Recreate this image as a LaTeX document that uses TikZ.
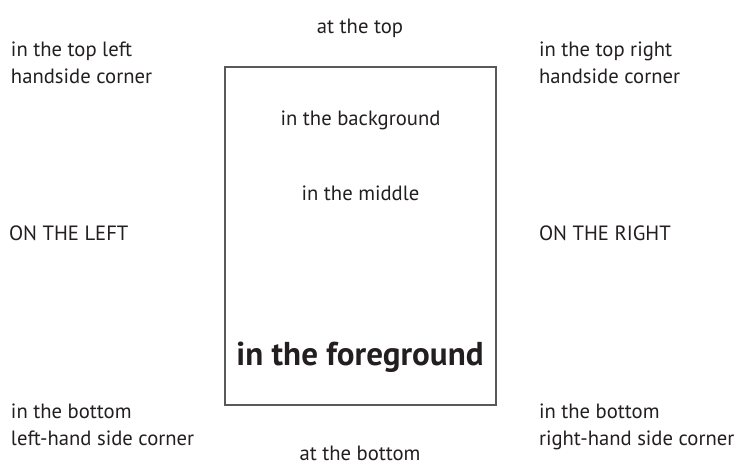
\documentclass[tikz,border=0pt]{standalone}
\usepackage{fontspec}
\setmainfont{PT Sans}
\definecolor{txt}{HTML}{231F20}
\definecolor{frame}{HTML}{58595B}
\begin{document}
\begin{tikzpicture}[x=0.75pt,y=-0.75pt,
  lbl/.style={inner sep=0pt,outer sep=0pt,text=txt,font=\fontsize{15.5}{20.25}\selectfont},
  lbll/.style={lbl,align=left,anchor=base west},
  lblc/.style={lbl,anchor=base}]
\useasboundingbox (0,0) rectangle (743,464);
\draw[frame,line width=0.8pt] (225,67) rectangle (496,405);
\node[lblc] (top) at (360,33) {at the top};
\node[lblc,text depth=0pt] (bottom) at (360,460) {at the bottom};
\node[lbll] (tl) at (11,83) {in the top left\\handside corner};
\node[lbll] (tr) at (539,83) {in the top right\\handside corner};
\node[lbll] (bl) at (11,445) {in the bottom\\left-hand side corner};
\node[lbll] (br) at (539,445) {in the bottom\\right-hand side corner};
\node[lblc,anchor=base west] (left) at (9,240) {ON THE LEFT};
\node[lblc,anchor=base west] (right) at (539,240) {ON THE RIGHT};
\node[lblc] (bg) at (360.5,125) {in the background};
\node[lblc] (mid) at (360.5,200) {in the middle};
\node[lblc,font=\fontsize{24.8}{29}\selectfont\bfseries] (fg) at (360,365) {in the foreground};
\end{tikzpicture}
\end{document}
